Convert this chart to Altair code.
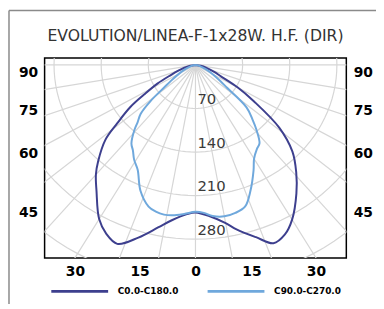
import altair as alt
import pandas as pd
import numpy as np

TITLE = "EVOLUTION/LINEA-F-1x28W. H.F. (DIR)"
SERIES = ["C0.0-C180.0", "C90.0-C270.0"]
COLORS = ["#3d3f8e", "#6fa8dc"]

# luminous intensity (cd) vs. angle from nadir (deg)
c0_angle = [0, 5, 10, 13, 18, 22, 26, 30, 36, 41, 46, 51, 56, 60, 64, 68, 74, 80, 90]
c0_cd = [237, 244, 258, 271, 291, 309, 303, 287, 255, 228, 200, 160, 105, 72, 42, 30, 17, 8, 0]
c180_angle = [0, 3, 8, 12, 17, 22, 26, 30, 36, 40, 43, 48, 51, 55, 58, 62, 66, 70, 74, 80, 90]
c180_cd = [237, 240, 252, 267, 290, 310, 302, 286, 250, 230, 212, 180, 150, 118, 90, 64, 40, 27, 18, 8, 0]
c90_angle = [0, 3, 6, 10, 14, 18, 22, 27, 30, 34, 37, 41, 44, 48, 52, 55, 60, 65, 70, 80, 90]
c90_cd = [236, 238, 244, 247, 245, 239, 218, 190, 174, 163, 158, 138, 122, 102, 59, 45, 29, 18, 11, 4, 0]
c270_angle = [0, 4, 8, 11, 14, 17, 22, 27, 31, 34, 37, 41, 43, 46, 49, 52, 55, 60, 65, 70, 80, 90]
c270_cd = [236, 240, 244, 245, 243, 238, 218, 189, 177, 166, 158, 138, 126, 113, 88, 59, 44, 28, 18, 11, 4, 0]

RINGS = [70, 140, 210, 280, 350, 420, 490]
RING_LABELS = [70, 140, 210, 280]
RAY_ANGLES = list(range(-90, 91, 10))
BOTTOM_ANGLES = [-30, -15, 0, 15, 30]
SIDE_ANGLES = [90, 75, 60, 45]

XMAX = 224.0
YTOP = 11.0
YBOT = -310.0


def half_join(left_a, left_v, right_a, right_v):
    a = [-x for x in reversed(left_a)] + right_a[1:]
    v = list(reversed(left_v)) + right_v[1:]
    return a, v


rows = []
a, v = half_join(c180_angle, c180_cd, c0_angle, c0_cd)
for i, (aa, vv) in enumerate(zip(a, v)):
    rows.append({"series": SERIES[0], "angle": aa, "cd": vv, "seq": i})
a, v = half_join(c270_angle, c270_cd, c90_angle, c90_cd)
for i, (aa, vv) in enumerate(zip(a, v)):
    rows.append({"series": SERIES[1], "angle": aa, "cd": vv, "seq": i})
curve_df = pd.DataFrame(rows)

ring_rows = []
for r in RINGS:
    for i, ang in enumerate(range(-180, 181, 3)):
        ring_rows.append({"ring": r, "angle": ang, "cd": r, "seq": i})
ring_df = pd.DataFrame(ring_rows)

ray_df = pd.DataFrame({"angle": RAY_ANGLES, "cd": [600] * len(RAY_ANGLES)})
label_df = pd.DataFrame({"cd": RING_LABELS, "angle": [0] * len(RING_LABELS)})

xvals = [float(-YBOT * np.tan(np.radians(t))) for t in BOTTOM_ANGLES]
yvals = [float(-XMAX / np.tan(np.radians(t))) if t != 90 else 0.0 for t in SIDE_ANGLES]

xscale = alt.Scale(domain=[-XMAX, XMAX], nice=False, zero=False)
yscale = alt.Scale(domain=[YBOT, YTOP], nice=False, zero=False)

axis_common = dict(
    ticks=False, domain=False, grid=False,
    labelFont="DejaVu Sans", labelFontSize=14, labelFontWeight="bold",
    labelColor="#000000", title=None,
)
x_axis = alt.Axis(values=xvals, labelPadding=7,
                  labelExpr=f"format(round(atan(abs(datum.value)/{-YBOT})*180/PI), 'd')",
                  **axis_common)
ylab = f"format(round(atan({XMAX}/abs(datum.value))*180/PI), 'd')"
y_left = alt.Axis(values=yvals, orient="left", labelPadding=7, labelOffset=8,
                  labelExpr=ylab, **axis_common)
y_right = alt.Axis(values=yvals, orient="right", labelPadding=7, labelOffset=8,
                   labelExpr=ylab, **axis_common)

XY_CALC = dict(
    x="datum.cd*sin(datum.angle*PI/180)",
    y="-datum.cd*cos(datum.angle*PI/180)",
)
GRID = "#d6d6d6"

rings = alt.Chart(ring_df).transform_calculate(**XY_CALC).mark_line(
    clip=True, color=GRID, strokeWidth=1.2
).encode(
    x=alt.X("x:Q", scale=xscale, axis=x_axis),
    y=alt.Y("y:Q", scale=yscale, axis=y_right),
    detail="ring:N",
    order="seq:Q",
)

rays = alt.Chart(ray_df).transform_calculate(
    x0="0", y0="0", **XY_CALC
).mark_rule(clip=True, color=GRID, strokeWidth=1.2).encode(
    x=alt.X("x0:Q", scale=xscale, axis=x_axis),
    y=alt.Y("y0:Q", scale=yscale, axis=None),
    x2="x:Q",
    y2="y:Q",
)

curves = alt.Chart(curve_df).transform_calculate(**XY_CALC).mark_line(
    strokeWidth=2, interpolate="catmull-rom"
).encode(
    x=alt.X("x:Q", scale=xscale, axis=x_axis),
    y=alt.Y("y:Q", scale=yscale, axis=y_left),
    color=alt.Color(
        "series:N",
        scale=alt.Scale(domain=SERIES, range=COLORS),
        legend=alt.Legend(
            title=None, orient="none", legendX=5, legendY=205,
            direction="horizontal", symbolType="stroke", symbolSize=3300,
            symbolStrokeWidth=2.8, labelFont="DejaVu Sans", labelFontSize=9,
            labelFontWeight="bold", labelColor="#000000", labelOffset=8,
            columnPadding=23, padding=0,
        ),
    ),
    order="seq:Q",
)

labels = alt.Chart(label_df).transform_calculate(**XY_CALC).mark_text(
    align="left", baseline="alphabetic", dx=2, dy=-4.5,
    font="DejaVu Sans", fontSize=15, color="#3a3a3a"
).encode(
    x=alt.X("x:Q", scale=xscale, axis=x_axis),
    y=alt.Y("y:Q", scale=yscale, axis=None),
    text="cd:Q",
)

frame = alt.Chart(pd.DataFrame({"k": [0]})).mark_rule(
    color="#8a8a8a", strokeWidth=1.5, clip=False
)
frame_left = frame.encode(x=alt.value(-36), y=alt.value(-48), y2=alt.value(260))
frame_top = frame.encode(x=alt.value(-36), x2=alt.value(345), y=alt.value(-48))

chart = alt.layer(rings, rays, curves, labels, frame_left, frame_top).resolve_axis(
    y="independent"
).properties(
    width=305,
    height=202,
    padding={"left": 37, "top": 49, "right": 30, "bottom": 45},
    autosize=alt.AutoSizeParams(type="none"),
    title=alt.TitleParams(
        TITLE, font="DejaVu Sans", fontSize=15.8, fontWeight="normal",
        color="#333333", offset=13, dy=48, anchor="middle",
    ),
).configure_view(stroke="#000000", strokeWidth=1.5)

chart.save("out.html", embed_options={"renderer": "svg", "actions": False})
